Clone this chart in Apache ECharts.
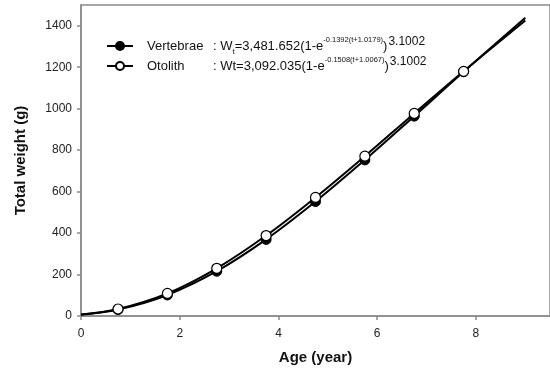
<!DOCTYPE html>
<html>
<head>
<meta charset="utf-8">
<script src="https://cdn.jsdelivr.net/npm/echarts@6/dist/echarts.min.js"></script>
<style>
  html, body { margin: 0; padding: 0; background: #fff; }
  #chart { width: 550px; height: 371px; }
</style>
</head>
<body>
<div id="chart"></div>
<script>
// Growth curves of total weight against age, from two ageing structures.
const ages = [0, 0.75, 1.75, 2.75, 3.75, 4.75, 5.75, 6.75, 7.75, 9];
const vertebraeWeight = [6.6, 31, 101.5, 216, 369.5, 552, 753, 964, 1178, 1439];
const otolithWeight = [7.1, 33.7, 109, 230, 388, 572, 771, 977, 1180, 1425];
// ages carrying a plotted observation marker
const markerAges = [0.75, 1.75, 2.75, 3.75, 4.75, 5.75, 6.75, 7.75];

const xTicks = [0, 2, 4, 6, 8];
const yTicks = [0, 200, 400, 600, 800, 1000, 1200, 1400];

const seriesNames = ['Vertebrae', 'Otolith'];
const legendText = {
  Vertebrae: '{nm|Vertebrae}{n|: W}{sub|t}{n|=3,481.652(1-e}{sup|-0.1392(t+1.0179)}{n|)}{ex|3.1002}',
  Otolith: '{nm|Otolith}{n|: Wt=3,092.035(1-e}{sup|-0.1508(t+1.0067)}{n|)}{ex2|3.1002}'
};

const FONT = '"Liberation Sans", Arial, sans-serif';

function buildData(values) {
  return ages.map((a, i) => {
    const item = { value: [a, values[i]] };
    if (markerAges.indexOf(a) < 0) item.symbol = 'none';
    return item;
  });
}

const chart = echarts.init(document.getElementById('chart'), null, { renderer: 'canvas' });

chart.setOption({
  animation: false,
  backgroundColor: '#fff',
  grid: {
    left: 81, right: -1, top: 5, bottom: 55,
    show: true, borderColor: '#8a8a8a', borderWidth: 1.5, backgroundColor: 'transparent'
  },
  legend: {
    data: seriesNames,
    orient: 'vertical',
    left: 101, top: 31,
    itemWidth: 26, itemHeight: 10, itemGap: 0,
    formatter: name => legendText[name],
    textStyle: {
      fontFamily: FONT, color: '#111',
      rich: {
        nm: { fontFamily: FONT, fontSize: 13, width: 66, lineHeight: 20, padding: [0, 0, 0, 9], color: '#111' },
        n: { fontFamily: FONT, fontSize: 13, lineHeight: 20, color: '#111' },
        sub: { fontFamily: FONT, fontSize: 8, lineHeight: 9, verticalAlign: 'bottom', color: '#111' },
        sup: { fontFamily: FONT, fontSize: 7.5, lineHeight: 9, verticalAlign: 'top', color: '#111' },
        ex: { fontFamily: FONT, fontSize: 12, lineHeight: 15, verticalAlign: 'top', padding: [0, 0, 0, 1], color: '#111' },
        ex2: { fontFamily: FONT, fontSize: 12, lineHeight: 15, verticalAlign: 'top', padding: [0, 0, 0, 1], color: '#111' }
      }
    }
  },
  xAxis: {
    type: 'value', min: 0, max: 9.5,
    name: 'Age (year)', nameLocation: 'middle', nameGap: 34,
    nameTextStyle: { fontFamily: FONT, fontSize: 15, fontWeight: 'bold', color: '#111' },
    axisLine: { show: true, lineStyle: { color: '#8a8a8a', width: 1.5 } },
    axisTick: { show: true, inside: false, length: 4, customValues: xTicks, lineStyle: { color: '#8a8a8a', width: 1.5 } },
    axisLabel: { customValues: xTicks, margin: 12, fontFamily: FONT, fontSize: 12, color: '#222' },
    splitLine: { show: false }
  },
  yAxis: {
    type: 'value', min: 0, max: 1500,
    name: 'Total weight (g)', nameLocation: 'middle', nameGap: 53,
    nameTextStyle: { fontFamily: FONT, fontSize: 15, fontWeight: 'bold', color: '#111' },
    axisLine: { show: true, lineStyle: { color: '#8a8a8a', width: 1.5 } },
    axisTick: { show: true, inside: false, length: 4, customValues: yTicks, lineStyle: { color: '#8a8a8a', width: 1.5 } },
    axisLabel: { customValues: yTicks, margin: 9, fontFamily: FONT, fontSize: 12, color: '#222', formatter: v => String(v) },
    splitLine: { show: false }
  },
  series: [
    {
      name: seriesNames[0], type: 'line', smooth: 0.35,
      data: buildData(vertebraeWeight),
      symbol: 'circle', symbolSize: 10, showSymbol: true,
      lineStyle: { color: '#000', width: 2 },
      itemStyle: { color: '#000', borderColor: '#000', borderWidth: 1 },
      z: 2
    },
    {
      name: seriesNames[1], type: 'line', smooth: 0.35,
      data: buildData(otolithWeight),
      symbol: 'circle', symbolSize: 10, showSymbol: true,
      lineStyle: { color: '#000', width: 2 },
      itemStyle: { color: '#fff', borderColor: '#000', borderWidth: 1.2 },
      z: 3
    }
  ]
});
</script>
</body>
</html>
